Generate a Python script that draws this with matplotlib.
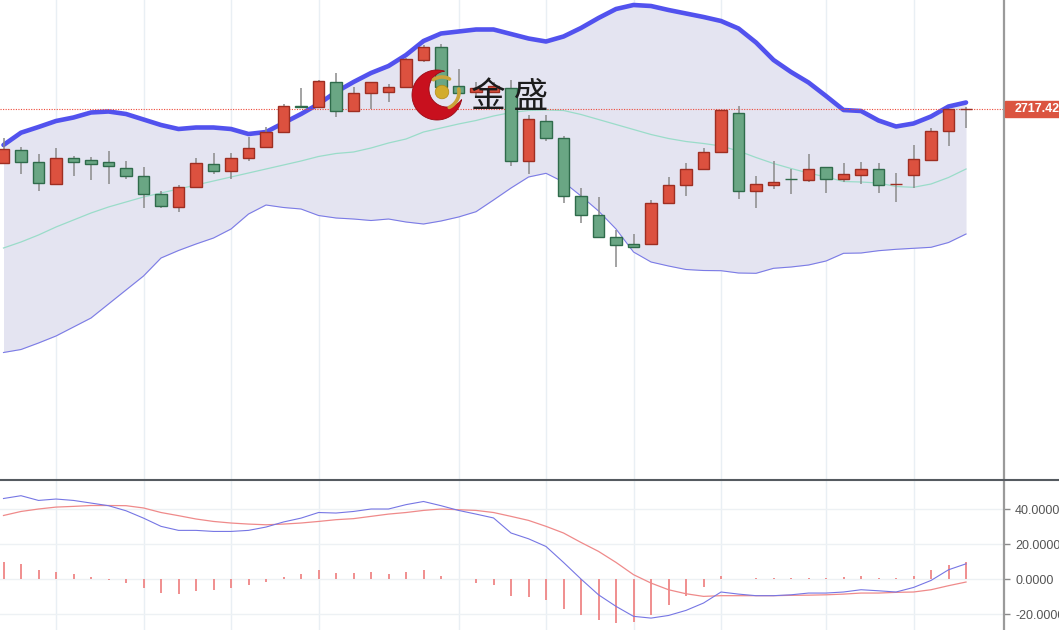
import numpy as np
import matplotlib.pyplot as plt
from matplotlib.lines import Line2D
from matplotlib.patches import Polygon, Circle, Rectangle
from matplotlib.transforms import blended_transform_factory

plt.rcParams['font.family'] = ['Liberation Sans', 'DejaVu Sans']

# daily candles
opens = [2663.7, 2676.7, 2664.7, 2642.4, 2668.7, 2666.1, 2664.1, 2658.4, 2650.4, 2632.4,
         2619.7, 2639.7, 2662.4, 2655.7, 2668.7, 2679.7, 2694.7, 2720.1, 2719.1, 2744.1,
         2715.4, 2733.1, 2734.1, 2739.1, 2766.4, 2779.7, 2740.4, 2734.4, 2734.4, 2738.7,
         2665.7, 2705.7, 2688.1, 2630.4, 2611.4, 2589.1, 2582.1, 2582.1, 2623.7, 2641.4,
         2657.4, 2674.7, 2713.1, 2635.4, 2641.4, 2647.2, 2646.4, 2659.7, 2647.4, 2651.4,
         2657.1, 2642.0, 2651.4, 2666.4, 2695.7, 2717.0]
highs = [2688.7, 2679.1, 2672.1, 2678.1, 2670.4, 2669.7, 2675.7, 2665.7, 2659.7, 2635.4,
         2641.4, 2668.1, 2673.1, 2673.7, 2689.7, 2699.1, 2722.4, 2738.1, 2746.4, 2753.7,
         2739.4, 2744.1, 2742.4, 2768.1, 2781.4, 2782.1, 2757.4, 2744.7, 2744.7, 2746.4,
         2711.4, 2711.4, 2690.4, 2638.1, 2629.7, 2596.4, 2592.4, 2626.4, 2649.1, 2663.1,
         2678.1, 2716.4, 2720.4, 2650.4, 2665.4, 2657.7, 2672.1, 2659.7, 2663.1, 2664.1,
         2663.1, 2653.7, 2681.4, 2698.1, 2717.4, 2719.0]
lows = [2662.4, 2652.4, 2635.4, 2642.0, 2650.4, 2646.4, 2642.4, 2647.1, 2618.1, 2618.1,
        2614.7, 2638.1, 2652.4, 2647.4, 2665.4, 2678.7, 2694.7, 2719.1, 2719.1, 2709.7,
        2715.4, 2717.1, 2724.7, 2738.1, 2764.7, 2738.4, 2729.7, 2729.7, 2733.4, 2660.7,
        2652.4, 2685.7, 2623.1, 2603.7, 2589.1, 2559.7, 2578.1, 2581.4, 2623.7, 2630.4,
        2657.4, 2674.7, 2627.1, 2618.1, 2637.1, 2632.1, 2644.1, 2633.4, 2644.7, 2642.1,
        2633.7, 2624.7, 2638.1, 2665.4, 2680.7, 2698.7]
closes = [2677.1, 2664.7, 2643.1, 2668.7, 2664.7, 2662.7, 2660.7, 2650.4, 2632.4, 2620.4,
          2639.7, 2663.7, 2655.7, 2668.7, 2678.7, 2694.7, 2720.7, 2719.4, 2745.4, 2715.4,
          2733.1, 2744.1, 2739.1, 2767.4, 2779.7, 2739.7, 2733.1, 2738.4, 2740.4, 2665.7,
          2707.1, 2688.1, 2630.4, 2611.4, 2589.1, 2581.4, 2579.7, 2623.7, 2641.4, 2657.4,
          2674.7, 2716.4, 2635.7, 2642.4, 2644.7, 2647.1, 2657.4, 2647.4, 2652.1, 2657.1,
          2641.4, 2642.1, 2667.1, 2695.7, 2717.4, 2717.42]

# bollinger bands
boll_upper = [2681.4, 2693.7, 2699.4, 2705.4, 2708.9, 2713.9, 2714.9, 2712.4, 2706.9, 2701.4,
              2697.4, 2698.9, 2698.9, 2697.4, 2692.4, 2694.4, 2703.4, 2712.4, 2722.4, 2734.4,
              2744.4, 2753.4, 2760.4, 2771.4, 2785.4, 2792.9, 2794.9, 2796.9, 2796.9, 2792.4,
              2787.9, 2784.9, 2789.9, 2798.4, 2808.4, 2817.4, 2821.4, 2820.4, 2816.4, 2812.9,
              2809.4, 2805.4, 2797.9, 2783.9, 2766.4, 2754.4, 2743.9, 2730.4, 2716.4, 2715.4,
              2705.9, 2699.9, 2702.9, 2709.9, 2719.9, 2723.9]
boll_mid = [2578.4, 2584.4, 2591.4, 2599.4, 2606.4, 2613.4, 2619.4, 2624.4, 2629.4, 2633.4,
            2637.4, 2641.4, 2645.4, 2649.4, 2653.4, 2657.4, 2661.4, 2665.4, 2669.9, 2672.9,
            2674.4, 2678.4, 2683.4, 2687.4, 2694.4, 2698.4, 2702.4, 2705.9, 2710.4, 2713.9,
            2715.9, 2716.4, 2715.9, 2711.9, 2706.9, 2701.9, 2696.9, 2691.9, 2687.9, 2684.9,
            2682.9, 2680.4, 2675.4, 2668.9, 2662.9, 2657.9, 2653.4, 2649.4, 2644.9, 2644.4,
            2643.4, 2639.9, 2639.1, 2642.4, 2648.9, 2657.4]
boll_lower = [2473.9, 2476.9, 2483.4, 2490.4, 2499.4, 2508.4, 2522.4, 2536.4, 2550.4, 2568.4,
              2575.9, 2582.4, 2588.4, 2597.4, 2612.4, 2621.4, 2618.9, 2617.4, 2610.9, 2608.4,
              2607.4, 2605.9, 2607.4, 2604.4, 2602.4, 2605.4, 2609.4, 2614.7, 2626.4, 2638.4,
              2649.4, 2653.1, 2644.4, 2630.4, 2615.4, 2597.4, 2574.4, 2564.4, 2560.4, 2556.9,
              2555.9, 2555.7, 2553.4, 2553.1, 2558.1, 2559.4, 2561.4, 2565.4, 2573.1, 2573.4,
              2575.7, 2577.1, 2578.1, 2579.1, 2583.9, 2592.4]

# MACD
macd_dif = [46.0, 47.6, 44.9, 45.7, 44.9, 43.4, 41.9, 39.0, 34.8, 30.1,
            27.8, 27.8, 27.2, 27.2, 27.8, 29.7, 32.6, 34.8, 38.0, 37.7,
            38.6, 40.0, 40.0, 42.5, 44.3, 41.9, 39.2, 37.1, 34.9, 26.3,
            23.0, 18.6, 9.5, 0.0, -9.0, -15.6, -21.3, -22.3, -20.8, -17.9,
            -13.7, -7.4, -8.6, -9.5, -9.5, -9.0, -8.0, -8.0, -7.4, -6.1,
            -6.7, -7.4, -4.8, -0.8, 5.3, 8.7]
macd_dea = [36.3, 38.6, 40.0, 41.1, 41.5, 42.0, 42.0, 41.9, 40.6, 38.0,
            36.2, 34.3, 32.9, 32.0, 31.4, 31.0, 31.4, 32.0, 32.9, 33.9,
            34.5, 35.8, 37.1, 38.0, 39.2, 40.0, 39.6, 39.2, 38.0, 35.8,
            33.5, 30.1, 26.3, 20.9, 15.8, 9.5, 2.5, -2.3, -6.1, -8.4,
            -9.9, -9.5, -9.5, -9.5, -9.5, -9.3, -9.2, -9.0, -8.6, -8.0,
            -8.0, -7.6, -7.4, -6.1, -3.8, -1.7]
macd_hist = [10.0, 8.7, 5.3, 4.0, 2.9, 1.1, -0.3, -2.3, -5.1, -8.0,
             -8.6, -7.1, -6.1, -5.1, -3.6, -1.9, 1.1, 2.9, 5.3, 3.4,
             3.4, 4.0, 2.9, 4.0, 5.3, 1.9, 0.3, -2.3, -3.6, -9.9,
             -10.5, -12.2, -17.1, -20.8, -23.6, -25.1, -24.8, -20.4, -15.1, -9.9,
             -4.8, 1.9, 0.2, 0.5, 0.5, 0.5, 0.8, 0.8, 1.0, 1.9,
             0.8, 0.8, 1.9, 5.3, 7.8, 9.7]

last_price = 2717.42
grid_days = [3, 8, 13, 18, 26, 31, 36, 41, 47, 52]   # week separators
macd_ticks = [40, 20, 0, -20]

RED, RED_EDGE = '#dc513f', '#9e2e22'
GREEN, GREEN_EDGE = '#6aa684', '#2f6b4b'

W, H = 1059, 630
fig = plt.figure(figsize=(W / 100, H / 100), dpi=100)
fig.patch.set_facecolor('white')

ax = fig.add_axes([0, 150 / H, 1004 / W, 480 / H])
ax2 = fig.add_axes([0, 0, 1004 / W, 149 / H])

x = np.arange(len(closes))
for a in (ax, ax2):
    a.set_xlim(-0.2, 57.17)
    for s in ('top', 'left', 'bottom'):
        a.spines[s].set_visible(False)
    a.spines['right'].set_color('#9a9a9a')
    a.spines['right'].set_linewidth(1.6)
    a.set_xticks([])
    for d in grid_days:
        a.axvline(d, color='#e9eff4', lw=1, zorder=0)

# --- price panel ---
ax.set_ylim(2346.4, 2826.4)
ax.set_yticks([])
ax.fill_between(x, boll_lower, boll_upper, color='#e4e4f1', lw=0, zorder=1)
ax.plot(x, boll_mid, color='#9adcc9', lw=0.9, zorder=2)
ax.plot(x, boll_lower, color='#7b7be6', lw=0.8, zorder=2)
ax.plot(x, boll_upper, color='#5252ee', lw=3.3, zorder=2, solid_capstyle='round')
ax.axhline(last_price, color='#ee4a3a', lw=0.8, ls=(0, (1, 1.3)), zorder=2.5)

o, c = np.array(opens), np.array(closes)
up = c >= o
ax.vlines(x, lows, highs, color='#8a8a8a', lw=1.1, zorder=3)
ax.bar(x, np.maximum(np.abs(c - o), 0.05), bottom=np.minimum(o, c), width=0.68,
       color=np.where(up, RED, GREEN), edgecolor=np.where(up, RED_EDGE, GREEN_EDGE),
       linewidth=1.0, zorder=4)

# last price tag
tr = blended_transform_factory(ax.transAxes, ax.transData)
ax.add_patch(Rectangle((1.001, last_price - 8), 0.06, 16, transform=tr,
                       color='#db5440', clip_on=False, zorder=6))
ax.text(1.011, last_price, f'{last_price:.2f}', transform=tr, color='white',
        fontsize=9, fontweight='bold', va='center', ha='left', clip_on=False, zorder=7)

# --- MACD panel ---
ax2.set_ylim(-29.1, 56)
for v in macd_ticks:
    ax2.axhline(v, color='#edf1f4', lw=1, zorder=0)
ax2.vlines(x, 0, macd_hist, color='#ef8686', lw=1.3, zorder=2)
ax2.plot(x, macd_dea, color='#ef8a8a', lw=0.9, zorder=3)
ax2.plot(x, macd_dif, color='#7676e4', lw=0.8, zorder=3)
ax2.yaxis.tick_right()
ax2.set_yticks(macd_ticks)
ax2.set_yticklabels([f'{v:.4f}' for v in macd_ticks])
ax2.tick_params(axis='y', length=4, width=1, color='#8a8a8a', pad=4,
                labelsize=9, labelcolor='#555555')

fig.add_artist(Line2D([0, 1], [150 / H, 150 / H], color='#555a60', lw=1.5))

# --- watermark logo ---
lax = fig.add_axes([0, 0, 1, 1], zorder=10)
lax.set_xlim(0, W)
lax.set_ylim(H, 0)
lax.axis('off')
c1, r1 = np.array([437.0, 95.0]), 25.0
c2, r2 = np.array([447.0, 89.0]), 18.0
th = np.linspace(0, 2 * np.pi, 721)
outer = c1 + r1 * np.c_[np.cos(th), np.sin(th)]
inner = c2 + r2 * np.c_[np.cos(th), np.sin(th)]
outer = outer[np.hypot(*(outer - c2).T) > r2]
inner = inner[np.hypot(*(inner - c1).T) < r1]
lax.add_patch(Polygon(np.vstack([outer, inner[::-1]]), closed=True,
                      fc='#c8101e', ec='#9a0a14', lw=0.6))
lax.add_patch(Circle((442, 92), 6.8, fc='#d2ac2c', ec='#b08a18', lw=0.5))
a1 = np.linspace(np.radians(235), np.radians(300), 30)
lax.plot(442 + 15 * np.cos(a1), 92 + 15 * np.sin(a1), color='#c9a43a', lw=2.6,
         solid_capstyle='round')
a2 = np.linspace(np.radians(-10), np.radians(65), 30)
lax.plot(442 + 17 * np.cos(a2), 92 + 17 * np.sin(a2), color='#c9a43a', lw=2.6,
         solid_capstyle='round')
lax.text(471, 97, '金 盛', fontsize=25, family=['Noto Sans CJK SC', 'DejaVu Sans'],
         color='#1c1c1c', va='center', ha='left')

fig.savefig('out.png', dpi=100)
